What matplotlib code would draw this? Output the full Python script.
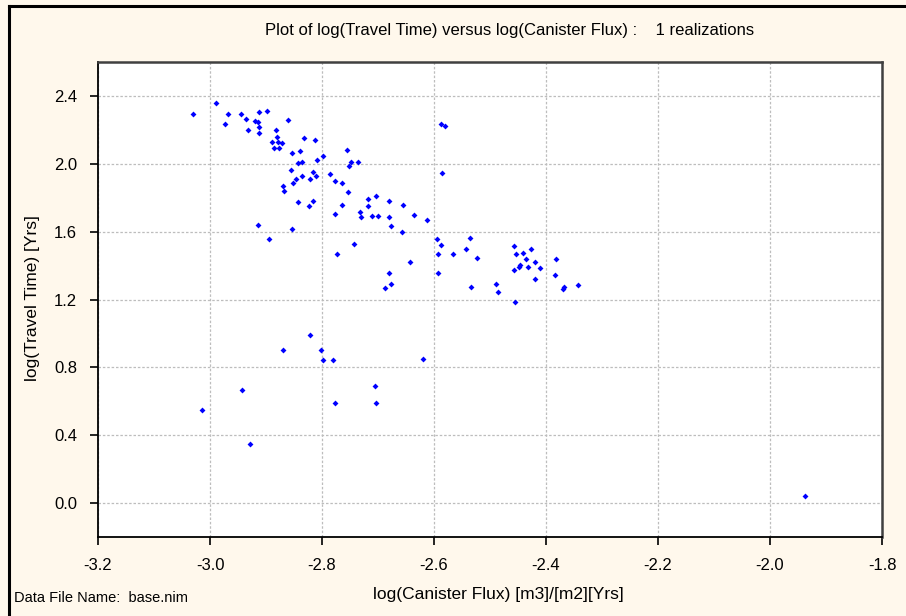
import matplotlib
matplotlib.use("Agg")
import matplotlib.pyplot as plt
from matplotlib.lines import Line2D

flux = [
    -3.030, -2.990, -2.974, -2.968, -2.945, -2.936, -2.932, -2.920, -2.914, -2.912,
    -2.912, -2.912, -2.898, -2.883, -2.880, -2.889, -2.878, -2.871, -2.885, -2.876,
    -2.860, -2.833, -2.813, -2.853, -2.840, -2.809, -2.798, -2.843, -2.836, -2.856,
    -2.816, -2.836, -2.811, -2.822, -2.847, -2.851, -2.870, -2.868, -2.843, -2.824,
    -2.816, -2.785, -2.776, -2.764, -2.755, -2.748, -2.751, -2.735, -2.753, -2.764,
    -2.776, -2.718, -2.704, -2.718, -2.733, -2.731, -2.711, -2.700, -2.914, -2.854,
    -2.894, -2.742, -2.773,
    -2.588, -2.580, -2.586, -2.681, -2.655, -2.681, -2.677, -2.635, -2.613, -2.657,
    -2.594, -2.588, -2.592, -2.566, -2.536, -2.543, -2.523, -2.642, -2.681, -2.592,
    -2.677, -2.688, -2.534, -2.489, -2.458, -2.454, -2.441, -2.427, -2.436, -2.420,
    -2.449, -2.447, -2.433, -2.411, -2.458, -2.420, -2.382, -2.384, -2.367, -2.369,
    -2.342, -2.485, -2.455, -2.619,
    -3.014, -2.943, -2.929, -2.870, -2.822, -2.802, -2.798, -2.780, -2.776, -2.706,
    -2.704, -1.937,
]
travel = [
    2.291, 2.358, 2.232, 2.291, 2.291, 2.262, 2.197, 2.253, 2.248, 2.305,
    2.216, 2.181, 2.313, 2.197, 2.159, 2.128, 2.128, 2.120, 2.092, 2.092,
    2.256, 2.151, 2.143, 2.062, 2.076, 2.025, 2.047, 2.003, 2.009, 1.966,
    1.950, 1.929, 1.929, 1.913, 1.913, 1.884, 1.870, 1.840, 1.773, 1.751,
    1.781, 1.937, 1.899, 1.885, 2.084, 2.009, 1.988, 2.009, 1.832, 1.757,
    1.706, 1.795, 1.810, 1.751, 1.714, 1.685, 1.692, 1.692, 1.639, 1.618,
    1.556, 1.529, 1.468,
    2.232, 2.224, 1.943, 1.781, 1.757, 1.685, 1.631, 1.698, 1.669, 1.596,
    1.556, 1.519, 1.468, 1.468, 1.565, 1.498, 1.444, 1.423, 1.356, 1.356,
    1.291, 1.267, 1.275, 1.291, 1.513, 1.468, 1.476, 1.498, 1.438, 1.423,
    1.393, 1.401, 1.393, 1.385, 1.372, 1.320, 1.438, 1.342, 1.275, 1.261,
    1.283, 1.243, 1.187, 0.852,
    0.547, 0.667, 0.348, 0.903, 0.993, 0.903, 0.844, 0.844, 0.592, 0.688,
    0.592, 0.044,
]
x_ticks = [-3.2, -3.0, -2.8, -2.6, -2.4, -2.2, -2.0, -1.8]
y_ticks = [0.0, 0.4, 0.8, 1.2, 1.6, 2.0, 2.4]

title = "Plot of log(Travel Time) versus log(Canister Flux) :    1 realizations"
xlabel = "log(Canister Flux) [m3]/[m2][Yrs]"
ylabel = "log(Travel Time) [Yrs]"
footer = "Data File Name:  base.nim"

plt.rcParams['font.family'] = ['Liberation Sans', 'DejaVu Sans']

bg = "#FFF8EC"
W, H = 906, 616
fig = plt.figure(figsize=(W / 100, H / 100), dpi=100, facecolor=bg)

# figure frame: left and top edges visible
fig.lines.append(Line2D([9 / W, 9 / W], [0, 1 - 6 / H], transform=fig.transFigure,
                        color="black", linewidth=2.2, solid_capstyle="projecting"))
fig.lines.append(Line2D([9 / W, 1], [1 - 6 / H, 1 - 6 / H], transform=fig.transFigure,
                        color="black", linewidth=2.2, solid_capstyle="projecting"))

ax = fig.add_axes([98 / W, 1 - 537 / H, (882 - 98) / W, (537 - 62) / H])
ax.set_facecolor("white")
ax.scatter(flux, travel, s=9, marker='D', color="#0000FF", linewidths=0, zorder=3)

ax.set_xlim(-3.2, -1.8)
ax.set_ylim(-0.2, 2.6)
ax.set_xticks(x_ticks)
ax.set_yticks(y_ticks)
ax.set_xticklabels([f"{v:.1f}" for v in x_ticks])
ax.set_yticklabels([f"{v:.1f}" for v in y_ticks])
ax.tick_params(axis='both', direction='out', length=6, width=1.2, labelsize=12,
               colors="black")
ax.tick_params(axis='x', pad=9)
ax.tick_params(axis='y', pad=9)
ax.grid(True, color="#BDBDBD", linestyle=(0, (2, 1.5)), linewidth=0.9)
ax.set_axisbelow(True)
for side in ["left", "bottom"]:
    ax.spines[side].set_linewidth(1.3)
    ax.spines[side].set_color("black")
for side in ["top", "right"]:
    ax.spines[side].set_linewidth(1.8)
    ax.spines[side].set_color("#404040")

fig.text(510 / W, 1 - 30 / H, title, ha="center", va="center", fontsize=12)
fig.text(498 / W, 1 - 594 / H, xlabel, ha="center", va="center", fontsize=12.5)
fig.text(33 / W, 1 - 298 / H, ylabel, ha="center", va="center", rotation=90,
         fontsize=12.5)
fig.text(14 / W, 1 - 598 / H, footer, ha="left", va="center", fontsize=10.5)

fig.savefig("out.png", dpi=100, facecolor=bg)
